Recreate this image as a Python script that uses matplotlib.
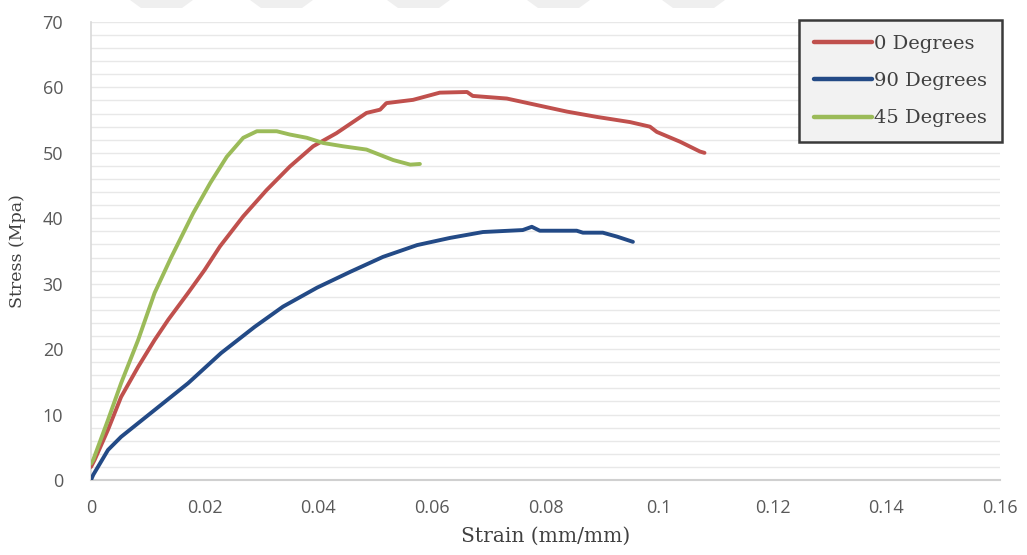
import matplotlib
matplotlib.use("Agg")
import matplotlib.pyplot as plt
from matplotlib.patches import Polygon

# Stress-strain curves for three fibre orientations
strain_0 = [0.0, 0.00065, 0.003, 0.0053, 0.0083, 0.0112, 0.0136, 0.0171, 0.02,
            0.0227, 0.0268, 0.0309, 0.035, 0.0391, 0.0432, 0.0485, 0.0509, 0.052,
            0.0567, 0.0614, 0.0662, 0.0672, 0.0732, 0.0785, 0.0838, 0.089, 0.0949,
            0.0984, 0.0996, 0.1037, 0.1072, 0.108]
stress_0 = [2.0, 3.1, 7.7, 12.7, 17.3, 21.4, 24.5, 28.6, 32.1,
            35.7, 40.3, 44.3, 47.9, 51.0, 53.0, 56.1, 56.6, 57.6,
            58.1, 59.2, 59.3, 58.7, 58.3, 57.3, 56.3, 55.5, 54.7,
            54.0, 53.2, 51.7, 50.2, 50.0]

strain_90 = [0.0, 0.0004, 0.003, 0.0053, 0.0112, 0.0171, 0.0229, 0.0288, 0.0338,
             0.0398, 0.0456, 0.0514, 0.0574, 0.0632, 0.069, 0.076, 0.0776, 0.079,
             0.0855, 0.0866, 0.0901, 0.0926, 0.0954]
stress_90 = [0.0, 0.8, 4.6, 6.6, 10.7, 14.8, 19.4, 23.4, 26.5,
             29.4, 31.8, 34.1, 35.9, 37.0, 37.9, 38.2, 38.7, 38.1,
             38.1, 37.8, 37.8, 37.2, 36.4]

strain_45 = [0.0, 0.0004, 0.003, 0.0053, 0.0083, 0.0112, 0.0141, 0.018, 0.021,
             0.0239, 0.0268, 0.0292, 0.0327, 0.035, 0.038, 0.0409, 0.0444, 0.0485,
             0.0532, 0.0562, 0.0579]
stress_45 = [2.5, 3.1, 9.2, 14.8, 21.4, 28.6, 34.0, 40.8, 45.4,
             49.4, 52.3, 53.3, 53.3, 52.8, 52.3, 51.5, 51.0, 50.5,
             48.9, 48.2, 48.3]

labels = ["0 Degrees", "90 Degrees", "45 Degrees"]
colors = ["#c0504d", "#234a86", "#9bbb59"]

x_ticks = [0, 0.02, 0.04, 0.06, 0.08, 0.1, 0.12, 0.14, 0.16]
x_tick_labels = ["0", "0.02", "0.04", "0.06", "0.08", "0.1", "0.12", "0.14", "0.16"]
y_ticks = [0, 10, 20, 30, 40, 50, 60, 70]

fig = plt.figure(figsize=(10.27, 5.55), dpi=100)
ax = fig.add_axes([0.0886, 0.1351, 0.885, 0.8253])

# faint banner shapes along the top edge
W, H = 1027.0, 555.0
for x0 in [130, 250, 387, 527, 662]:
    pts = [(x0 / W, 1.0), ((x0 + 63) / W, 1.0), ((x0 + 52) / W, 1 - 8 / H), ((x0 + 11) / W, 1 - 8 / H)]
    fig.patches.append(Polygon(pts, closed=True, transform=fig.transFigure,
                               facecolor="#efefef", edgecolor="none", zorder=0))

for sx, sy, lab, col in [(strain_0, stress_0, labels[0], colors[0]),
                         (strain_90, stress_90, labels[1], colors[1]),
                         (strain_45, stress_45, labels[2], colors[2])]:
    ax.plot(sx, sy, color=col, lw=2.8, label=lab, solid_capstyle="round",
            solid_joinstyle="round", zorder=3)

ax.set_xlim(0, 0.16)
ax.set_ylim(0, 70)
ax.set_xticks(x_ticks)
ax.set_xticklabels(x_tick_labels)
ax.set_yticks(y_ticks)
ax.set_yticks(range(0, 71, 2), minor=True)
ax.grid(True, which="both", axis="y", color="#e8e8e8", lw=1.0, zorder=0)
ax.tick_params(axis="both", which="both", length=0, labelsize=13, labelcolor="#595959")
ax.tick_params(axis="x", pad=14)
ax.tick_params(axis="y", pad=20)
for lab in ax.get_xticklabels() + ax.get_yticklabels():
    lab.set_family("Open Sans")

for s in ["top", "right"]:
    ax.spines[s].set_visible(False)
ax.spines["left"].set_color("#d9d9d9")
ax.spines["bottom"].set_color("#d0d0d0")
ax.spines["left"].set_linewidth(1.2)
ax.spines["bottom"].set_linewidth(1.5)

ax.set_xlabel("Strain (mm/mm)", family="DejaVu Serif", fontsize=14.5, color="#404040", labelpad=7)
ax.set_ylabel("Stress (Mpa)", family="DejaVu Serif", fontsize=12.5, color="#404040", labelpad=12)

leg = ax.legend(loc="upper right", bbox_to_anchor=(1.0022, 1.0044),
                prop={"family": "DejaVu Serif", "size": 14},
                frameon=True, fancybox=False, handlelength=3.0, handletextpad=0.1,
                labelspacing=1.0, borderpad=0.75, borderaxespad=0)
leg.get_frame().set_facecolor("#f2f2f2")
leg.get_frame().set_edgecolor("#3a3a3a")
leg.get_frame().set_linewidth(1.8)
leg.get_frame().set_alpha(1)
for t in leg.get_texts():
    t.set_color("#404040")
for ln in leg.get_lines():
    ln.set_linewidth(3.2)

fig.savefig("out.png", dpi=100)
